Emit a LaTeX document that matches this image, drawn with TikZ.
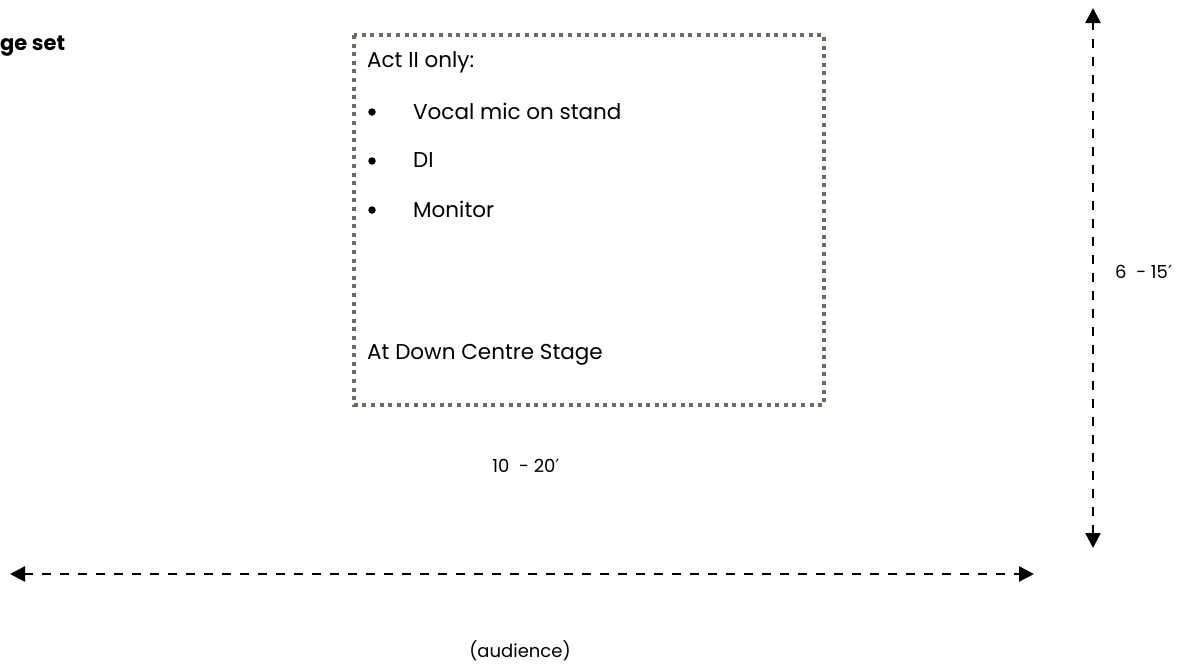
\documentclass[tikz,border=0pt]{standalone}
\usepackage{fontspec}
\setmainfont{Poppins}
\newfontfamily\symfont{DejaVu Sans}
\usetikzlibrary{arrows.meta}
\definecolor{dotgray}{HTML}{6B6B63}
\newcommand{\primesym}{{\symfont ′}}
\tikzset{
  dim/.style={line width=2.4pt, dash pattern=on 9pt off 9pt, {Triangle[length=15pt,width=15pt]}-{Triangle[length=15pt,width=15pt]}},
  lbl/.style={inner sep=0pt, font=\fontsize{18}{20}\selectfont},
  boxtxt/.style={inner sep=0pt, anchor=west, font=\fontsize{21.5}{24}\selectfont},
  bul/.style={circle, fill=black, inner sep=0pt, minimum size=7.5pt},
}
\begin{document}
\begin{tikzpicture}[x=1pt,y=-1pt]
\useasboundingbox (0,0) rectangle (1200,664);
% dotted box
\draw[dotgray, line width=4pt, dash pattern=on 4pt off 4.6pt] (354,35) rectangle (824,405);
\node[inner sep=0pt, anchor=west, font=\bfseries\fontsize{21}{24}\selectfont] (title) at (0,46) {ge set};
\node[boxtxt] (t0) at (367,62) {Act II only:};
\node[bul] (b1) at (372,112) {};
\node[boxtxt] (t1) at (413,111) {Vocal mic on stand};
\node[bul] (b2) at (372,161) {};
\node[boxtxt] (t2) at (413,160) {DI};
\node[bul] (b3) at (372,210) {};
\node[boxtxt] (t3) at (413,209) {Monitor};
\node[boxtxt] (t4) at (367,355) {At Down Centre Stage};
% dimensions
\coordinate (vt) at (1093,8);
\coordinate (vb) at (1093,548);
\draw[dim] (vb) -- (vt);
\coordinate (hl) at (10,574);
\coordinate (hr) at (1034,574);
\draw[dim] (hl) -- (hr);
\node[lbl, anchor=west] (vl) at (1115,272) {6\ \ -\ 15\primesym};
\node[lbl] (hlb) at (526,466) {10\ \ -\ 20\primesym};
\node[lbl] (aud) at (520,651) {(audience)};
\end{tikzpicture}
\end{document}
